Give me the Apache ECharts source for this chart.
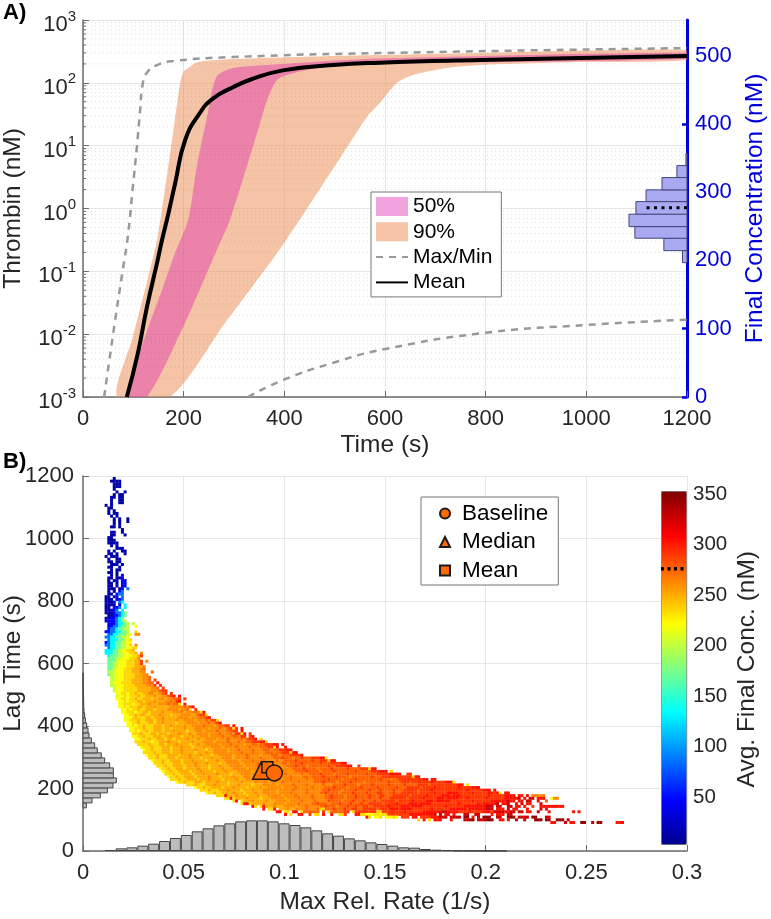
<!DOCTYPE html>
<html>
<head>
<meta charset="utf-8">
<style>
  html, body { margin: 0; padding: 0; background: #fff; }
  #chart { width: 771px; height: 919px; }
</style>
<script src="https://cdn.jsdelivr.net/npm/echarts@6/dist/echarts.min.js"></script>
</head>
<body>
<div id="chart"></div>
<script>
// panel A: thrombin curves, each as time (s) / conc (nM)
const maxT = [42, 64, 79, 89, 99, 107, 113, 119, 127, 147, 179, 298, 590, 1200]
const maxV = [0.001, 0.017, 0.105, 0.355, 2.2, 9.5, 33, 100, 145, 192, 222, 257, 298, 357]
const minT = [328, 397, 497, 600, 799, 1000, 1200]
const minV = [0.001, 0.00186, 0.0035, 0.0058, 0.0105, 0.014, 0.017]
const meanT = [87, 109, 127, 147, 157, 169, 183, 203, 232, 258, 298, 332, 397, 497, 590, 789, 987, 1200]
const meanV = [0.001, 0.005, 0.027, 0.135, 0.316, 0.79, 2.5, 12.3, 33, 56, 85, 112, 158, 192, 209, 230, 248, 268]

const q95T = [68, 99, 133, 149, 179, 193, 199, 203, 226, 266, 366, 497, 590, 789, 1200]
const q95V = [0.001, 0.009, 0.105, 0.38, 16, 100, 148, 158, 210, 230, 250, 268, 277, 298, 333]
const q5T = [173, 282, 397, 530, 564, 590, 624, 656, 723, 789, 987, 1200]
const q5V = [0.001, 0.015, 0.263, 11, 28.6, 48, 100, 133, 172, 192, 214, 230]
const q75T = [89, 123, 159, 183, 209, 226, 248, 258, 268, 298, 366, 564, 1200]
const q75V = [0.001, 0.009, 0.056, 0.195, 0.66, 4.6, 33, 85, 133, 172, 192, 240, 300]
const q25T = [127, 199, 266, 292, 346, 366, 385, 405, 465, 564, 1200]
const q25V = [0.001, 0.013, 0.22, 0.66, 16, 54, 110, 133, 172, 200, 240]

// final concentration histogram on the right axis
const finalEdges = [196.7, 214.3, 232.5, 249.5, 267.7, 286.1, 303.3, 321.3, 338.8, 357]
const finalFreq = [0.017, 0.087, 0.196, 0.218, 0.192, 0.154, 0.094, 0.038, 0.004]
const finalMean = 277

const logTicks = [0.001, 0.01, 0.1, 1, 10, 100]
const logMinors = [2, 3, 4, 5, 6, 7, 8, 9]

// panel B: marginals
const rateBinWidth = 0.0054
const rateBinStart = 0.0108
const rateCounts = [3, 8, 11, 16, 22, 30, 39, 48, 59, 68, 77, 83, 89, 92, 92, 89, 83, 78, 71, 62, 53, 46, 38, 32, 26, 21, 16, 11, 10, 6, 4, 3, 1.5, 1, 1, 0.5, 0.5]
const lagBinWidth = 16
const lagBinStart = 138
const lagCounts = [10, 27, 52, 73, 90, 100, 91, 91, 80, 65, 55, 43, 35, 25, 18, 15, 11, 7, 5, 3, 2, 2, 1.5, 1, 1, 0.5, 0.5]

const baselinePt = [0.095, 250]
const medianPt = [0.0885, 257]
const meanPt = [0.0916, 268]

// heat map cells. one string per lag row (top row first), letter+count runs, _ is an empty run
const heatTopLag = 1192
const heatLagStep = 8.6
const heatRateStep = 0.00135
const heatKey = { a: 12, b: 45, c: 85, d: 130, e: 170, f: 200, g: 220, h: 235, i: 250, j: 262, k: 275, l: 290, m: 303, n: 325, o: 345 }
const heatRows = [
  '_11a', '_10a4', '_11a3', '_11a3', '_11a', '_12a_2a', '_11a_a2', '_10a2_a2', '_10a_2a2', '_10a_2a2',
  '_8a_a', '_9a2', '_9a_a', '_9a_a2', '_10a_a', '_11a_a_2a', '_11a_a_2a', '_11a_a', '_10a2_a', '_14a',
  '_10a2_2a', '_10a2_3a', '_9a2', '_9a3', '_9a4', '_10a_a', '_12a3', '_9a_a_2a2', '_9a2_a_2a', '_8a_a3',
  '_9a_2a2', '_9a2_a2', '_10a3_a', '_9a2_2a', '_10a_a2', '_9a2_a', '_10a_a_b', '_9a2_a2b', '_9a_a2_b2', '_9a2_a_b2',
  '_9a2_a_ab', '_9a3_ab_c', '_9a_a_bc', '_9a2_bc2', '_8a2_ab_c', '_8a3_b2c', '_8a3b_cd', '_8a4_b_d', '_8a2_b2c_d', '_8a3bc_d',
  '_8a3bc2de', '_9a2b2cde', '_8a2b2cde', '_8ab3cdef', '_9b3cd2ef_f', '_9b2c2de2f_2g', '_9bc2de2f2', '_8b2c2d2e2f_2h', '_9c2d2e3fg_j2', '_8c2d2e2f2g',
  '_9cd3e2fgh', '_8bcd2e2f2g2', '_8c2d2e2f2gh_j', '_9cd2e2f2g2h2', '_8d3e2fg2h2i', '_8d3e2f2g2h2i_j', '_9de3f2g3h2il', '_9e3f2g3h3j', '_9e3fg3h3i2l_j', '_9e2f2g3h3i2l',
  '_9e2f2g3h3i3j', '_9e2fg3h3i3jk', '_9f3g3h3i3j2_2k', '_9ef2g3h4i3j2', '_10f2g3h4i3j2k', '_10f2g3h3i4j2k_l', '_10fg3h4i4j2k2_m', '_10f2g3h4i4j3l_l', '_11fg3h5i5j2k_l', '_11fg3h5i5j3kl2',
  '_12g2h2gh2ih2i2j2i2jkl_l', '_12fg2hgh3ih2i3ji2j2klm_m', '_12g2h2gh2ih2i3hi2j2ij2k2l_l', '_13g2hgh3i2hi3ji3j2kjlm', '_13g2h3gh2i3ji3j3kjk2h_m',
  '_13g2hgh3i2hi3ji5j5kjlm',
  '_14g2hgh2ih2i3hi4j4ij2kh_l',
  '_14g2h3gh2i2hi4ji3j4ij3kjhm',
  '_15g2h2ihi2h2i3ji3hi3j4ijkl2h',
  '_15g3hih3i2hi3ji5j4ij3k2lm',
  '_15g2h3ih2i3hi2ji4ji2j4ij3kjl2h',
  '_16g2h2ih3i2hi2ji4hi3j4ij3kjklm',
  '_16g2hgh2ih3i3hi2ji4ji2j4kj3ijk2l2_m',
  '_17g2h3ih3i3hi2hi4ji3j5ij3kj2klhl_m',
  '_17g2hgh2ih2i3hi3ji4hi2j3ij4kj3k2l2_m',
  '_18h3ih3i2hi3hi3ji3ji2j4ij3kj3kjl2hm_l',
  '_18g2h2ih3i3hi2ji3hi3ji2j3ij4kj3k2jl2_lm',
  '_19g2h3ih2i3hi2hi4ji3ji2j4ij3kj4kjkl2m_h',
  '_19h3ih2gh2i3ji3hi4ji3j4ij4kj3kj2k2l3m2h',
  '_20h4ih3i2hi3ji4hi2ji2j5ij3kj4ij2k2jk2l3m2_m',
  '_21gh3ih3i3hi3ji3hi3ji2j4ij4kj4kj3k3l2hm_2m',
  '_22gh2ih3i3hi3ji4ji3hi2j5ij3kj4kj3k3jk2l3m2',
  '_22h4ih2i3hi3ji4hi3ji2j5ij4kj3kj4k3jk2l3hm2',
  '_23gh3ih3i4hi3ji3ji3hi2j5ij4kj4ij3k3jk3l4m',
  '_24h3ih3i3hi4ji3hi3ji3j4ij4kj4kj4k3lk3jk2lk3l3m2g',
  '_25gh3ih2i4hi3ji4hi3ji2j5ij4kj3kj4kj2k4lk3k2lk2l3hm2',
  '_26h3ih3i3hi4ji3ji4hi2j5ij5kj4kj3k2jk4lk4k2lk3l4m2',
  '_27h3ih2i4hi3ji4hi3ji3j5ij4kj5kj4k3lk3jk4k3lk2l4m2_2l',
  '_28gh2ih2i3hi4ji3hi4ji3j5ij5kj4kj5k4lk4jk4lk2k3lk4l3hm2',
  '_29gh2ih2i4hi3ji4hi3ji4j5ij4kj5kj4k4lk4jk4lk3k4lk5l3m3_h',
  '_30h3ih2i4hi3ji4ji4hi3j5ij5kj4kj5kj2k4lk4jk4lk4k2lk3l5m4_2l2',
  '_31gh2ih2i4hi4ji3hi4ji3j5ij5kj5kj4k2jk4lk4lk4jk4k3lk3l5l6hm2',
  '_32h3ih2i4hi3ji4hi4ji3j5ij5kj4kj5kj2k5lk4jk4lk5k3lk3jk2l3l6m2_m2',
  '_34gh2ih3i3hi4ji3hi4ji4j5ij4kj5kj5k3lk4jk4lk4jk4k4lk4l3kl4l3ml4m3g',
  '_38h3ih3i3ji4hi3ji4hi3j5ij5kj4kj5kj3k4lk4jk4lk5lk2k3lk4l4kl5l5m2_h',
  '_41gh2ih2i4hi3ji4hi4ji2j5ij4kj5kj4k3lk4jk4lk5lk3k3lk3l5kl4ml4l4ml4m3',
  '_43h3ih3i3ji4hi3ji3j5ij5kj4kj5k2lk4jk4lk4lk3lk2k2lk3l5kl4ml4l3l5ml5m3_m',
  '_45gh2ih2i4ji3hi3ji2j5ij4kj5kj4k2lk4jk4lk4lk3l2k2k2lk2l6kl5ml4m4l5ml5m2lmg_m2',
  '_49h3mi3ji3hi3ji3j5ij4kj5kj4k2lk4jk3lk4lk3l2k2kl6kl5ml5m3lm3l4l6ml5m4_m2_m_j5',
  '_52h2mhi4ji4hi3j5ij4kj4kj4k2lk4jk3lk4lk3lk2kl6kl5ml4m3lm4l3ml6ml6m5n_m_n2_m3_2gj2',
  '_55hm_hi3ji4ji3j4ij4kj4kj4lk4jk3lk3lk3lk2l5kl5ml4m3lm5l2l6ml6m6nm2_m2_n2_2m_2k',
  '_58hm2hi4ji3j4ij4kj4k2lk3jk3lk3lk3lk2l5kl4ml4m3lm4l3l7ml6mlm5n_m2n_2m_n_m2_3n',
  '_62mh_hmi3ji3j4ij3kj4k2lk3jk3lk2lk2l2k2l5ml4m3lm4l8ml6m8n3_n2_2n2_m2_m_2l_2m9',
  '_66m_h2m_i3ji2j4kj3kh2k3lk3lk2l2k2l5kl4m3lm4l7ml6m6lm6n3_m3_n_m2_3m_4n_m',
  '_71m2_h2_m2_hk6_l_hk5l2_hl8h2l8ml6m7n2m4l4ml4m3ln4m2n2_n2_m2_2n_3m_8m_m',
  '_74m_h_2m2_2l_h2_m_2m_2h2l_3m2h2g3h2gh2l8m9n_n_m2_m_3n2_2n2_4m_m3_n2',
  '_104mh_g2h_g3hg_l3_m2_l4m3n3_n4_o2_m_n_o3_2n2_2o3_n4_o2_3n2',
  '_123h_m_h_m3_3m_4n2o2_n3o3_2m2_m_2n_2n_3o3_o2_2o3_n',
  '_172m2_3n_m2_2o2_2n_o2_5m3'
]

const concTicks = [0, 100, 200, 300, 400, 500]
const barTicks = [50, 100, 150, 200, 250, 300, 350]

const jet = ['#00008f', '#0000ff', '#0080ff', '#00ffff', '#80ff80', '#ffff00', '#ff8000', '#ff0000', '#800000']

const FONT = 'Liberation Sans'
const TEXT = '#262626'
const AXIS = '#6b6b6b'
const GRID = '#e6e6e6'
const BLUE = '#0000d8'
const MARK = '#ff6a00'

const zip = (xs, ys) => xs.map((x, i) => [x, ys[i]])

const heatData = []
heatRows.forEach((row, r) => {
  let col = 0
  for (const m of row.matchAll(/([a-o_])(\d*)/g)) {
    const n = m[2] ? +m[2] : 1
    if (m[1] !== '_') {
      for (let k = 0; k < n; k++) {
        heatData.push([(col + k + 0.5) * heatRateStep, heatTopLag - r * heatLagStep, heatKey[m[1]]])
      }
    }
    col += n
  }
})

const bandItem = (upT, upV, loT, loV, color) => (params, api) => {
  const top = zip(upT, upV).map((p) => api.coord(p))
  const bottom = zip(loT, loV).map((p) => api.coord(p)).reverse()
  return { type: 'polygon', shape: { points: top.concat(bottom), smooth: 0.25 }, style: { fill: color } }
}

const histItem = (fill, stroke) => (params, api) => {
  const a = api.coord([0, api.value(0)])
  const b = api.coord([api.value(2), api.value(1)])
  return {
    type: 'rect',
    shape: { x: Math.min(a[0], b[0]), y: Math.min(a[1], b[1]), width: Math.abs(b[0] - a[0]), height: Math.abs(b[1] - a[1]) },
    style: { fill: fill, stroke: stroke, lineWidth: 1 }
  }
}

const minorValues = []
logTicks.forEach((t) => logMinors.forEach((m) => minorValues.push([0, t * m])))

const marker = (name, symbol, size, pt) => ({
  name: name,
  type: 'scatter',
  xAxisIndex: 2,
  yAxisIndex: 2,
  symbol: symbol,
  symbolSize: size,
  itemStyle: { color: MARK, opacity: 1, borderColor: '#1a1a1a', borderWidth: 1.5 },
  z: 6,
  data: [pt]
})

const hidden = { color: 'rgba(0,0,0,0)', borderColor: 'rgba(0,0,0,0)', borderWidth: 0 }

const option = {
  animation: false,
  backgroundColor: '#fff',
  textStyle: { fontFamily: FONT },
  title: [
    { text: 'A)', left: 3, top: 2, padding: 0, textStyle: { fontSize: 22, fontWeight: 'bold', color: '#000', fontFamily: FONT } },
    { text: 'B)', left: 3, top: 451, padding: 0, textStyle: { fontSize: 22, fontWeight: 'bold', color: '#000', fontFamily: FONT } }
  ],
  grid: [
    { left: 83, top: 20, width: 604, height: 377, outerBoundsMode: 'none' },
    { left: 83, top: 476, width: 604, height: 375, outerBoundsMode: 'none' },
    { left: 661, top: 491, width: 25, height: 356.5, outerBoundsMode: 'none' }
  ],
  xAxis: [
    {
      gridIndex: 0, type: 'value', min: 0, max: 1200, interval: 200,
      name: 'Time (s)', nameLocation: 'middle', nameGap: 36, nameMoveOverlap: false,
      nameTextStyle: { fontSize: 24.5, color: TEXT, fontFamily: FONT },
      axisLine: { onZero: false, lineStyle: { color: AXIS, width: 1.5 } },
      axisTick: { inside: true, length: 6, lineStyle: { color: AXIS } },
      axisLabel: { fontSize: 22, color: TEXT, margin: 11, fontFamily: FONT, formatter: (v) => String(v) },
      splitLine: { show: true, lineStyle: { color: GRID } }
    },
    { gridIndex: 0, type: 'value', min: 0, max: 2.27, inverse: true, show: false },
    {
      gridIndex: 1, type: 'value', min: 0, max: 0.3, interval: 0.05,
      name: 'Max Rel. Rate (1/s)', nameLocation: 'middle', nameGap: 39, nameMoveOverlap: false,
      nameTextStyle: { fontSize: 24.5, color: TEXT, fontFamily: FONT },
      axisLine: { onZero: false, lineStyle: { color: AXIS, width: 1.5 } },
      axisTick: { inside: true, length: 6, lineStyle: { color: AXIS } },
      axisLabel: { fontSize: 22, color: TEXT, margin: 11, fontFamily: FONT, formatter: (v) => String(+v.toFixed(2)) },
      splitLine: { show: true, lineStyle: { color: GRID } }
    },
    { gridIndex: 1, type: 'value', min: 0, max: 1812, show: false },
    { gridIndex: 2, type: 'value', min: 0, max: 1, show: false }
  ],
  yAxis: [
    {
      gridIndex: 0, type: 'log', logBase: 10, min: 0.001, max: 1000,
      name: 'Thrombin (nM)', nameLocation: 'middle', nameGap: 57, nameRotate: 90, nameMoveOverlap: false,
      nameTextStyle: { fontSize: 24.5, color: TEXT, fontFamily: FONT },
      axisLine: { onZero: false, lineStyle: { color: AXIS, width: 1.5 } },
      axisTick: { inside: true, length: 6, lineStyle: { color: AXIS } },
      axisLabel: {
        margin: 7,
        color: TEXT,
        formatter: (v) => '{b|10}{s|' + Math.round(Math.log10(v)) + '}',
        rich: {
          b: { fontSize: 22, color: TEXT, fontFamily: FONT, padding: [10, 0, 0, 0] },
          s: { fontSize: 15, color: TEXT, fontFamily: FONT, verticalAlign: 'top', padding: [5, 0, 0, 0] }
        }
      },
      splitLine: { show: true, lineStyle: { color: GRID } }
    },
    {
      gridIndex: 0, type: 'value', position: 'right', min: 0, max: 552,
      name: 'Final Concentration (nM)', nameLocation: 'middle', nameGap: 56, nameRotate: 90, nameMoveOverlap: false,
      nameTextStyle: { fontSize: 24.5, color: BLUE, fontFamily: FONT },
      axisLine: { onZero: false, lineStyle: { color: BLUE, width: 3 } },
      axisTick: { inside: true, length: 5, customValues: concTicks, lineStyle: { color: BLUE, width: 2.5 } },
      axisLabel: { fontSize: 22, color: BLUE, margin: 8, customValues: concTicks, fontFamily: FONT },
      splitLine: { show: false }
    },
    {
      gridIndex: 1, type: 'value', min: 0, max: 1200, interval: 200,
      name: 'Lag Time (s)', nameLocation: 'middle', nameGap: 57, nameRotate: 90, nameMoveOverlap: false,
      nameTextStyle: { fontSize: 24.5, color: TEXT, fontFamily: FONT },
      axisLine: { onZero: false, lineStyle: { color: AXIS, width: 1.5 } },
      axisTick: { inside: true, length: 6, lineStyle: { color: AXIS } },
      axisLabel: { fontSize: 22, color: TEXT, margin: 9, fontFamily: FONT, formatter: (v) => String(v) },
      splitLine: { show: true, lineStyle: { color: GRID } }
    },
    { gridIndex: 1, type: 'value', min: 0, max: 1125, show: false },
    {
      gridIndex: 2, type: 'value', position: 'right', min: 0, max: 353,
      name: 'Avg. Final Conc. (nM)', nameLocation: 'middle', nameGap: 49, nameRotate: 90, nameMoveOverlap: false,
      nameTextStyle: { fontSize: 24.5, color: TEXT, fontFamily: FONT },
      axisLine: { onZero: false, show: false },
      axisTick: { inside: true, length: 3, customValues: barTicks, lineStyle: { color: AXIS } },
      axisLabel: { fontSize: 20.5, color: TEXT, margin: 7, customValues: barTicks, fontFamily: FONT },
      splitLine: { show: false }
    }
  ],
  visualMap: {
    type: 'continuous',
    seriesIndex: 9,
    dimension: 2,
    min: 1,
    max: 353,
    left: 661,
    top: 491,
    itemWidth: 25,
    itemHeight: 353,
    padding: 0,
    text: null,
    calculable: false,
    borderColor: '#777',
    borderWidth: 1,
    inRange: { color: jet }
  },
  legend: [
    {
      left: 371, top: 192, orient: 'vertical', padding: [4, 9, 4, 4], itemWidth: 32, itemHeight: 19, itemGap: 4.3, itemAlign: 'left',
      backgroundColor: '#fff', borderColor: '#777', borderWidth: 1, borderRadius: 0,
      textStyle: { fontSize: 21, color: '#000', fontFamily: FONT, padding: [0, 0, 0, 0] },
      selectedMode: false,
      data: [
        { name: '50%', icon: 'rect' },
        { name: '90%', icon: 'rect' },
        { name: 'Max/Min', itemStyle: hidden },
        { name: 'Mean', itemStyle: hidden }
      ]
    },
    {
      left: 421, top: 497, orient: 'vertical', padding: [5, 10, 3, 18], itemWidth: 10, itemHeight: 10, itemGap: 5.5,
      backgroundColor: '#fff', borderColor: '#777', borderWidth: 1, borderRadius: 0,
      textStyle: { fontSize: 22.5, color: '#000', fontFamily: FONT, padding: [0, 0, 0, 7] },
      selectedMode: false,
      formatter: (n) => n.replace(' point', ''),
      data: ['Baseline point', 'Median point', 'Mean point']
    }
  ],
  series: [
    {
      name: '90%', type: 'custom', xAxisIndex: 0, yAxisIndex: 0, z: 2, clip: true, data: [[0, 1]],
      itemStyle: { color: 'rgba(235,135,75,0.5)' },
      renderItem: bandItem(q95T, q95V, q5T, q5V, 'rgba(235,135,75,0.5)')
    },
    {
      name: '50%', type: 'custom', xAxisIndex: 0, yAxisIndex: 0, z: 2, clip: true, data: [[0, 1]],
      itemStyle: { color: 'rgba(222,51,178,0.45)' },
      renderItem: bandItem(q75T, q75V, q25T, q25V, 'rgba(222,51,178,0.45)')
    },
    {
      // minor log grid and ticks, the log axis spaces its own minor ticks evenly so they go here
      type: 'custom', xAxisIndex: 0, yAxisIndex: 0, z: 3, silent: true, data: minorValues,
      renderItem: (params, api) => {
        const a = api.coord([0, api.value(1)])
        const b = api.coord([1200, api.value(1)])
        return {
          type: 'group',
          children: [
            { type: 'line', shape: { x1: a[0], y1: a[1], x2: b[0], y2: b[1] }, style: { stroke: 'rgba(110,110,110,0.22)', lineWidth: 1, lineDash: [1, 3] } },
            { type: 'line', shape: { x1: a[0], y1: a[1], x2: a[0] + 3, y2: a[1] }, style: { stroke: AXIS, lineWidth: 1 } }
          ]
        }
      }
    },
    {
      name: 'Max/Min', type: 'line', xAxisIndex: 0, yAxisIndex: 0, z: 4, symbol: 'none', smooth: 0.5,
      itemStyle: { color: '#999' }, lineStyle: { color: '#999', width: 2.5, type: [7, 6] },
      data: zip(maxT, maxV)
    },
    {
      name: 'Max/Min low', type: 'line', xAxisIndex: 0, yAxisIndex: 0, z: 4, symbol: 'none', smooth: 0.5,
      lineStyle: { color: '#999', width: 2.5, type: [7, 6] },
      data: zip(minT, minV)
    },
    {
      name: 'Mean', type: 'line', xAxisIndex: 0, yAxisIndex: 0, z: 5, symbol: 'none', smooth: 0.5,
      itemStyle: { color: '#000' }, lineStyle: { color: '#000', width: 4 },
      data: zip(meanT, meanV)
    },
    {
      type: 'custom', xAxisIndex: 1, yAxisIndex: 1, z: 5, silent: true,
      data: finalFreq.map((f, i) => [finalEdges[i], finalEdges[i + 1], f]),
      renderItem: histItem('#a9a9f2', '#45457f')
    },
    {
      type: 'line', xAxisIndex: 1, yAxisIndex: 1, z: 6, symbol: 'none',
      lineStyle: { color: '#000', width: 3, type: [3, 4.5] },
      data: [[0, finalMean], [0.155, finalMean]]
    },
    {
      type: 'bar', xAxisIndex: 2, yAxisIndex: 3, z: 3, barWidth: 10.9,
      itemStyle: { color: '#bdbdbd', borderColor: '#444', borderWidth: 1 },
      data: rateCounts.map((c, i) => [rateBinStart + (i + 0.5) * rateBinWidth, c])
    },
    {
      type: 'scatter', xAxisIndex: 2, yAxisIndex: 2, z: 4, symbol: 'rect', symbolSize: [3, 3],
      itemStyle: { opacity: 1 }, silent: true, data: heatData
    },
    {
      type: 'custom', xAxisIndex: 3, yAxisIndex: 2, z: 3, silent: true,
      data: lagCounts.map((c, i) => [lagBinStart + i * lagBinWidth, lagBinStart + (i + 1) * lagBinWidth, c]),
      renderItem: histItem('#bdbdbd', '#444')
    },
    marker('Median point', 'triangle', 17, medianPt),
    marker('Mean point', 'rect', 11, meanPt),
    marker('Baseline point', 'circle', 16, baselinePt),
    {
      type: 'line', xAxisIndex: 4, yAxisIndex: 4, z: 10, symbol: 'none',
      lineStyle: { color: '#000', width: 3.5, type: [3, 3.5] },
      data: [[0, 276], [1, 276]]
    }
  ]
}

const chart = echarts.init(document.getElementById('chart'), null, { renderer: 'canvas' })
chart.setOption(option)
</script>
</body>
</html>
